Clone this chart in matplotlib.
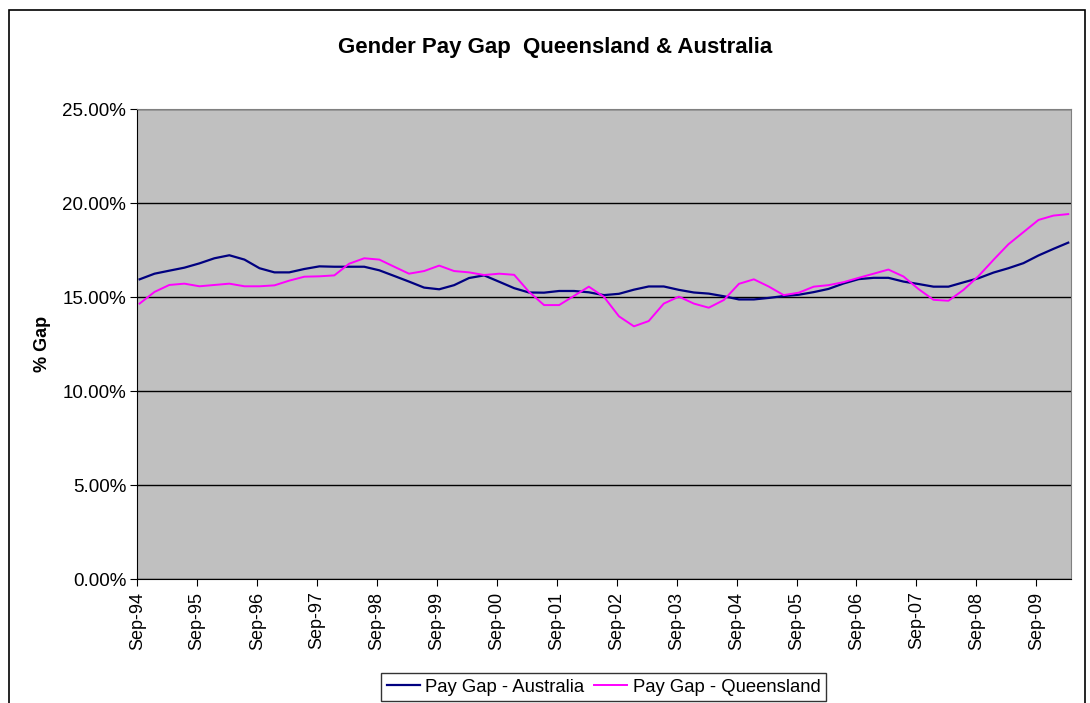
import pandas as pd
import numpy as np
import matplotlib
matplotlib.use('Agg')
import matplotlib.pyplot as plt
import matplotlib.dates as mdates
from matplotlib.ticker import PercentFormatter, MultipleLocator
from matplotlib.patches import Rectangle

plt.rcParams['font.family'] = ['Liberation Sans', 'DejaVu Sans']

# quarterly observations, Sep-94 .. Mar-10 (% gap)
australia = [15.94, 16.24, 16.40, 16.56, 16.79, 17.06, 17.22, 16.99, 16.53, 16.31,
             16.31, 16.49, 16.63, 16.61, 16.61, 16.61, 16.42, 16.12, 15.82, 15.50,
             15.41, 15.63, 16.01, 16.15, 15.81, 15.47, 15.24, 15.23, 15.32, 15.32,
             15.25, 15.10, 15.17, 15.39, 15.56, 15.56, 15.38, 15.24, 15.18, 15.04,
             14.87, 14.87, 14.95, 15.05, 15.12, 15.26, 15.43, 15.72, 15.95, 16.02,
             16.02, 15.82, 15.69, 15.55, 15.55, 15.78, 16.00, 16.30, 16.53, 16.80,
             17.21, 17.56, 17.89]
queensland = [14.65, 15.27, 15.64, 15.71, 15.57, 15.64, 15.71, 15.57, 15.57, 15.62,
              15.87, 16.08, 16.10, 16.15, 16.77, 17.06, 16.99, 16.61, 16.24, 16.38,
              16.67, 16.38, 16.31, 16.17, 16.24, 16.18, 15.28, 14.57, 14.57, 15.06,
              15.55, 15.01, 13.97, 13.44, 13.72, 14.65, 15.02, 14.65, 14.43, 14.84,
              15.70, 15.94, 15.56, 15.10, 15.23, 15.55, 15.63, 15.79, 16.02, 16.24,
              16.46, 16.09, 15.42, 14.85, 14.80, 15.38, 16.12, 16.98, 17.80, 18.45,
              19.10, 19.33, 19.41]
dates = pd.date_range('1994-09-01', periods=len(australia), freq='3MS') + pd.Timedelta(days=14)

fig = plt.figure(figsize=(10.9, 7.03), dpi=100)
fig.patch.set_facecolor('white')
ax = fig.add_axes([137.3 / 1090, 1 - 579 / 703, (1071 - 137.3) / 1090, (579 - 109) / 703])
ax.set_facecolor('#C0C0C0')

# chart area border
fig.patches.append(Rectangle((9 / 1090, -0.05), (1085 - 9) / 1090, 1.05 - 10 / 703,
                             transform=fig.transFigure, fill=False, edgecolor='black', lw=1.2))

ax.plot(dates, australia, color='#000080', lw=1.6, label='Pay Gap - Australia')
ax.plot(dates, queensland, color='#FF00FF', lw=1.4, label='Pay Gap - Queensland')

ax.set_ylim(0, 25)
ax.set_xlim(pd.Timestamp('1994-09-01'), pd.Timestamp('2010-04-01'))
ax.yaxis.set_major_locator(MultipleLocator(5))
ax.yaxis.set_major_formatter(PercentFormatter(xmax=100, decimals=2))
ax.grid(axis='y', color='black', lw=1)
ax.set_axisbelow(True)
ax.xaxis.set_major_locator(mdates.YearLocator(base=1, month=9, day=1))
ax.xaxis.set_major_formatter(mdates.DateFormatter('%b-%y'))
ax.tick_params(axis='x', rotation=90, labelsize=13, length=5, direction='out', pad=4)
ax.tick_params(axis='y', labelsize=13.5, length=5, direction='out', pad=3)
for s in ['top', 'right']:
    ax.spines[s].set_color('#808080')
for s in ['left', 'bottom']:
    ax.spines[s].set_color('black')

ax.set_ylabel('% Gap', fontsize=13, fontweight='bold', labelpad=8)
fig.text(555 / 1090, 1 - 47 / 703, 'Gender Pay Gap  Queensland & Australia',
         ha='center', va='center', fontsize=16, fontweight='bold')

leg = fig.legend(loc='upper center', bbox_to_anchor=(603.5 / 1090, 1 - 673 / 703), ncol=2,
                 fontsize=13.3, frameon=True, fancybox=False, edgecolor='black',
                 handlelength=1.8, columnspacing=0.5, handletextpad=0.3, borderpad=0.3,
                 borderaxespad=0)
leg.get_frame().set_linewidth(1)

fig.savefig('out.png', dpi=100)
